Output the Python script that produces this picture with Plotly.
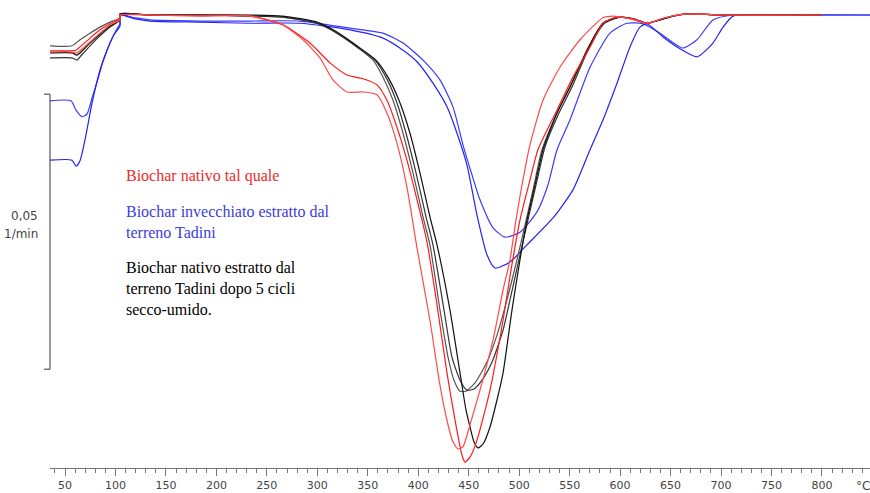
import plotly.graph_objects as go

# DTG curves: temperature (°C) and mass-loss rate (1/min)
T_red_a = [35.1, 56.9, 60.9, 64.9, 74.8, 84.7, 94.6, 104.5, 104.5, 134.2,
           183.8, 233.3, 266.0, 292.7, 312.6, 329.4, 345.3, 359.1, 369.0, 378.9,
           388.8, 398.8, 408.7, 418.6, 428.5, 436.4, 443.3, 446.3, 451.3, 458.2,
           471.1, 484.0, 491.9, 500.8, 510.7, 518.6, 537.5, 553.3, 570.2, 583.0,
           596.9, 612.8, 626.7, 644.5, 666.3, 698.9, 800.0]
D_red_a = [-0.0065, -0.0065, -0.0064, -0.0058, -0.0042, -0.0027, -0.0016, -0.0007, 0.0, 0.0,
           -0.0001, -0.0002, -0.0018, -0.0051, -0.0087, -0.0109, -0.0116, -0.0127, -0.0155, -0.0204,
           -0.0264, -0.0336, -0.0413, -0.0527, -0.0651, -0.0736, -0.0800, -0.0813, -0.0804, -0.0773,
           -0.0682, -0.0555, -0.0464, -0.0373, -0.0300, -0.0245, -0.0173, -0.0113, -0.0058, -0.0015,
           -0.0004, -0.0007, -0.0015, -0.0005, 0.0002, 0.0, 0.0]

T_red_b = [35.1, 56.9, 61.9, 64.9, 74.8, 84.7, 94.6, 104.5, 104.5, 134.2,
           183.8, 233.3, 263.0, 285.8, 302.6, 315.5, 329.4, 345.3, 359.1, 369.0,
           378.9, 388.8, 398.8, 411.6, 421.5, 429.5, 434.4, 439.4, 444.3, 451.3,
           461.2, 474.1, 484.0, 490.9, 496.8, 502.8, 510.7, 523.6, 540.4, 560.3,
           583.0, 592.9, 609.8, 626.7, 644.5, 666.3, 698.9, 800.0]
D_red_b = [-0.0067, -0.0067, -0.0069, -0.0065, -0.0049, -0.0033, -0.0018, -0.0009, 0.0, 0.0,
           -0.0002, -0.0002, -0.0015, -0.0045, -0.0078, -0.0118, -0.0140, -0.0140, -0.0145, -0.0178,
           -0.0233, -0.0313, -0.0424, -0.0555, -0.0673, -0.0745, -0.0776, -0.0789, -0.0785, -0.0745,
           -0.0682, -0.0591, -0.0500, -0.0445, -0.0373, -0.0309, -0.0236, -0.0155, -0.0095, -0.0045,
           -0.0005, -0.0002, -0.0007, -0.0015, -0.0005, 0.0002, 0.0, 0.0]

T_black_a = [35.1, 56.9, 64.9, 74.8, 84.7, 94.6, 104.5, 104.5, 134.2, 183.8,
             233.3, 266.0, 299.7, 319.5, 339.3, 355.2, 365.1, 375.0, 384.9, 394.8,
             404.7, 411.6, 421.5, 429.5, 435.4, 441.4, 447.3, 456.2, 468.1, 478.0,
             487.9, 497.8, 505.8, 513.7, 522.6, 537.5, 550.3, 567.2, 583.0, 599.9,
             612.8, 626.7, 639.5, 652.4, 666.3, 698.9, 800.0]
D_black_a = [-0.0056, -0.0056, -0.0045, -0.0033, -0.0022, -0.0013, -0.0005, 0.0002, 0.0, 0.0,
             -0.0002, -0.0004, -0.0015, -0.0033, -0.0058, -0.0082, -0.0113, -0.0155, -0.0215, -0.0287,
             -0.0367, -0.0418, -0.0536, -0.0622, -0.0664, -0.0684, -0.0684, -0.0669, -0.0631, -0.0582,
             -0.0518, -0.0445, -0.0382, -0.0318, -0.0245, -0.0178, -0.0131, -0.0064, -0.0015, -0.0004,
             -0.0007, -0.0015, -0.0009, -0.0002, 0.0002, 0.0, 0.0]

T_black_b = [35.1, 56.9, 61.9, 64.9, 74.8, 84.7, 94.6, 104.5, 104.5, 134.2,
             183.8, 233.3, 266.0, 299.7, 319.5, 339.3, 357.1, 368.0, 378.0, 387.9,
             397.8, 407.7, 414.6, 425.5, 433.4, 441.4, 448.3, 455.2, 463.2, 473.1,
             484.0, 490.9, 500.8, 508.7, 516.7, 525.6, 538.5, 552.3, 568.2, 584.0,
             599.9, 612.8, 626.7, 639.5, 652.4, 666.3, 698.9, 800.0]
D_black_b = [-0.0078, -0.0078, -0.0082, -0.0076, -0.0056, -0.0038, -0.0022, -0.0009, 0.0002, 0.0,
             0.0, -0.0002, -0.0004, -0.0015, -0.0033, -0.0058, -0.0082, -0.0113, -0.0155, -0.0215,
             -0.0287, -0.0367, -0.0418, -0.0536, -0.0622, -0.0664, -0.0682, -0.0680, -0.0664, -0.0631,
             -0.0573, -0.0518, -0.0436, -0.0373, -0.0309, -0.0240, -0.0182, -0.0131, -0.0064, -0.0016,
             -0.0004, -0.0007, -0.0015, -0.0009, -0.0002, 0.0002, 0.0, 0.0]

T_black_c = [35.1, 56.9, 61.9, 64.9, 74.8, 84.7, 94.6, 104.5, 104.5, 134.2,
             183.8, 233.3, 266.0, 299.7, 319.5, 339.3, 358.1, 370.0, 380.9, 391.8,
             401.7, 411.6, 418.6, 431.4, 441.4, 447.3, 451.3, 455.2, 459.2, 464.2,
             471.1, 478.0, 484.0, 492.9, 500.8, 507.7, 515.7, 523.6, 537.5, 550.3,
             567.2, 583.0, 599.9, 612.8, 626.7, 639.5, 652.4, 666.3, 698.9, 800.0]
D_black_c = [-0.0069, -0.0069, -0.0073, -0.0069, -0.0051, -0.0035, -0.0020, -0.0009, 0.0002, 0.0,
             0.0, 0.0, -0.0002, -0.0013, -0.0031, -0.0056, -0.0082, -0.0113, -0.0155, -0.0215,
             -0.0287, -0.0367, -0.0418, -0.0536, -0.0651, -0.0718, -0.0749, -0.0776, -0.0787, -0.0780,
             -0.0749, -0.0700, -0.0651, -0.0536, -0.0445, -0.0373, -0.0309, -0.0245, -0.0178, -0.0131,
             -0.0064, -0.0015, -0.0004, -0.0007, -0.0015, -0.0009, -0.0002, 0.0002, 0.0, 0.0]

T_blue_a = [35.1, 55.9, 60.9, 66.8, 71.8, 76.8, 81.7, 87.6, 94.6, 101.5,
            104.5, 104.5, 119.4, 134.2, 183.8, 233.3, 282.8, 332.4, 365.1, 384.9,
            404.7, 421.5, 434.4, 444.3, 453.3, 461.2, 474.1, 485.9, 500.8, 517.6,
            528.5, 537.5, 550.3, 570.2, 590.0, 606.8, 622.7, 639.5, 651.4, 662.3,
            676.2, 692.0, 711.9, 740.0, 847.6]
D_blue_a = [-0.0156, -0.0156, -0.0173, -0.0185, -0.0180, -0.0151, -0.0122, -0.0085, -0.0051, -0.0025,
            -0.0016, 0.0, -0.0005, -0.0009, -0.0011, -0.0011, -0.0011, -0.0024, -0.0033, -0.0051,
            -0.0082, -0.0118, -0.0167, -0.0236, -0.0291, -0.0336, -0.0387, -0.0404, -0.0395, -0.0358,
            -0.0309, -0.0245, -0.0191, -0.0095, -0.0033, -0.0015, -0.0016, -0.0033, -0.0049, -0.0060,
            -0.0045, -0.0009, 0.0, 0.0, 0.0]

T_blue_b = [35.1, 56.9, 60.9, 64.9, 69.8, 76.8, 84.7, 91.6, 98.5, 104.5,
            104.5, 119.4, 134.2, 183.8, 233.3, 282.8, 332.4, 365.1, 384.9, 398.8,
            414.6, 428.5, 438.4, 448.3, 458.2, 468.1, 476.0, 490.9, 507.7, 533.5,
            553.3, 570.2, 583.0, 596.9, 609.8, 619.7, 626.7, 642.5, 656.4, 676.2,
            692.0, 702.0, 711.9, 740.0, 847.6]
D_blue_b = [-0.0264, -0.0264, -0.0275, -0.0265, -0.0227, -0.0160, -0.0100, -0.0064, -0.0036, -0.0020,
            0.0, -0.0007, -0.0011, -0.0013, -0.0015, -0.0015, -0.0027, -0.0042, -0.0064, -0.0085,
            -0.0124, -0.0167, -0.0215, -0.0273, -0.0364, -0.0436, -0.0460, -0.0449, -0.0418, -0.0369,
            -0.0318, -0.0245, -0.0191, -0.0124, -0.0058, -0.0022, -0.0016, -0.0040, -0.0058, -0.0076,
            -0.0051, -0.0022, -0.0002, 0.0, 0.0]

x_ticks = [50, 100, 150, 200, 250, 300, 350, 400, 450, 500, 550, 600, 650, 700, 750, 800]
scale_bar = 0.05          # 1/min
scale_top = -0.0144

series = [
    (T_blue_a, D_blue_a, "#3a3aff"),
    (T_blue_b, D_blue_b, "#2424f0"),
    (T_black_a, D_black_a, "#555555"),
    (T_black_b, D_black_b, "#333333"),
    (T_black_c, D_black_c, "#111111"),
    (T_red_a, D_red_a, "#ff1a1a"),
    (T_red_b, D_red_b, "#ff4a4a"),
]

fig = go.Figure()
for tx, dy, col in series:
    fig.add_trace(go.Scatter(x=tx, y=dy, mode="lines",
                             line=dict(color=col, width=1.2, shape="spline", smoothing=0.6),
                             showlegend=False, hoverinfo="skip"))

axis_col = "#777777"
fig.update_layout(
    width=870, height=493,
    margin=dict(l=50, r=0, t=0, b=25),
    paper_bgcolor="white", plot_bgcolor="white",
    xaxis=dict(range=[35.14, 847.6], tickvals=x_ticks, ticks="outside", ticklen=7,
               tickcolor=axis_col, tickwidth=1, showline=True, linecolor=axis_col, linewidth=1,
               showgrid=False, zeroline=False,
               tickfont=dict(family="DejaVu Sans", size=11, color="#444444"),
               minor=dict(dtick=10, tick0=0, ticks="outside", ticklen=4, tickcolor=axis_col,
                          showgrid=False)),
    yaxis=dict(range=[-0.082364, 0.002727], visible=False),
)

# vertical scale bar for 0,05 1/min
bar_col = "#555555"
y_bot = scale_top - scale_bar
fig.add_shape(type="line", xref="paper", yref="y", x0=0, x1=0, y0=scale_top, y1=y_bot,
              line=dict(color=bar_col, width=1.2))
for yy in (scale_top, y_bot):
    fig.add_shape(type="line", xref="paper", yref="y", x0=-0.0073, x1=0, y0=yy, y1=yy,
                  line=dict(color=bar_col, width=1.2))

lab_font = dict(family="DejaVu Sans", size=12, color="#444444")
fig.add_annotation(xref="paper", yref="paper", x=-0.0122, y=(468 - 216) / 468, text="0,05",
                   showarrow=False, xanchor="right", yanchor="middle", font=lab_font)
fig.add_annotation(xref="paper", yref="paper", x=-0.0122, y=(468 - 234) / 468, text="1/min",
                   showarrow=False, xanchor="right", yanchor="middle", font=lab_font)
fig.add_annotation(xref="paper", yref="paper", x=1.003, y=-18 / 468, text="°C",
                   showarrow=False, xanchor="right", yanchor="middle",
                   font=dict(family="DejaVu Sans", size=12, color="#444444"))

# curve descriptions
serif = "Liberation Serif, Times New Roman, serif"
notes = [
    ("Biochar nativo tal quale", 176, "#ee2a2a"),
    ("Biochar invecchiato estratto dal<br>terreno Tadini", 222, "#3c3cdc"),
    ("Biochar nativo estratto dal<br>terreno Tadini dopo 5 cicli<br>secco-umido.", 288.5, "#000000"),
]
for txt, ypx, col in notes:
    fig.add_annotation(xref="paper", yref="paper", x=(124 - 50) / 820, y=(468 - ypx) / 468,
                       text=txt, showarrow=False, xanchor="left", yanchor="middle", align="left",
                       font=dict(family=serif, size=16, color=col))

fig.write_html("out.html")
